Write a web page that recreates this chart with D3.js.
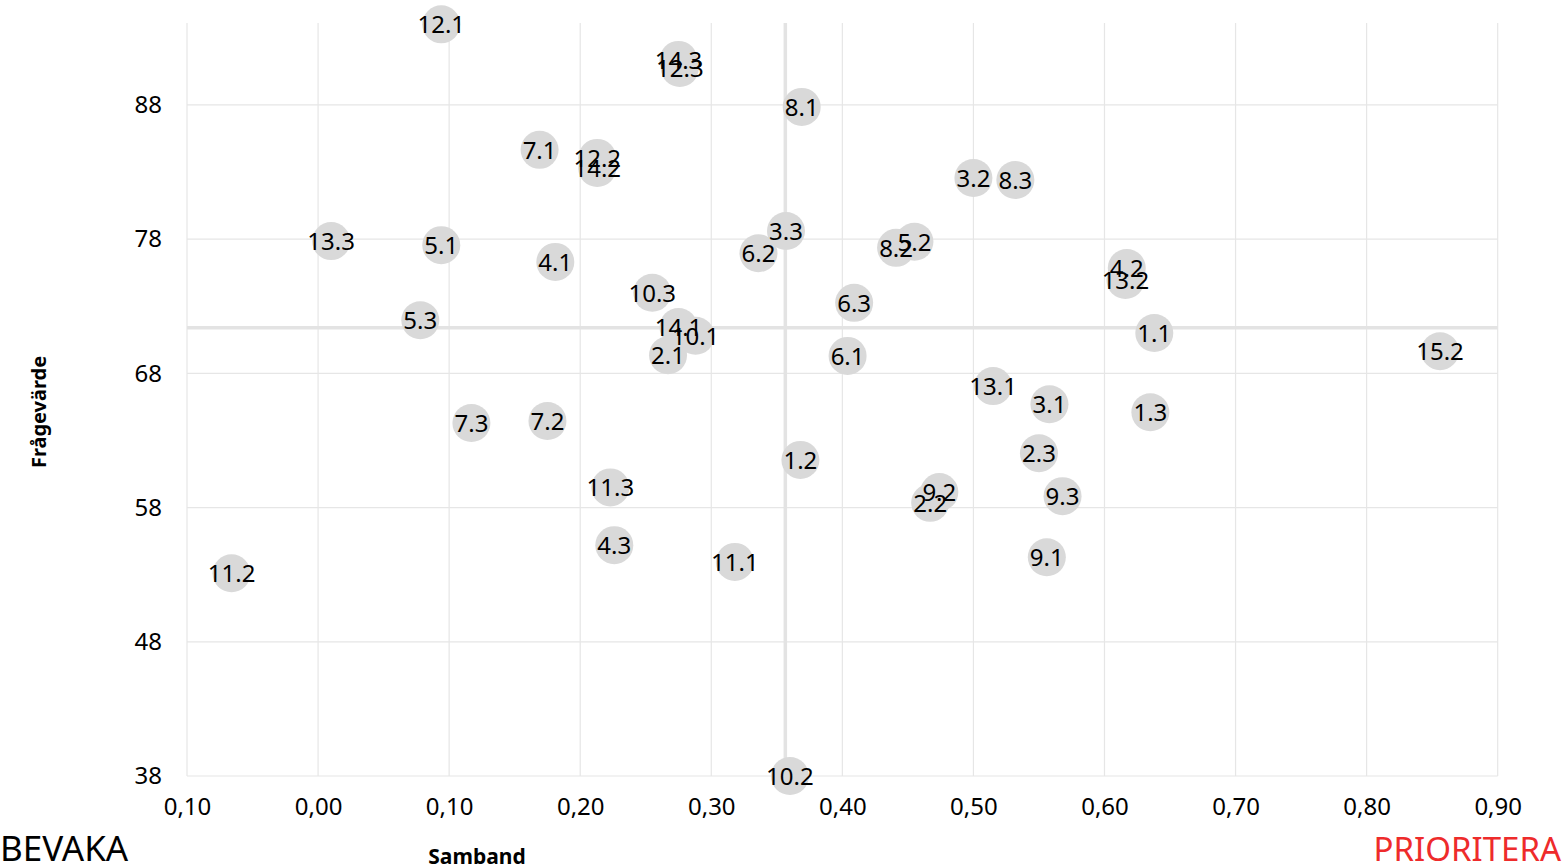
<!DOCTYPE html>
<html>
<head>
<meta charset="utf-8">
<script src="https://cdn.jsdelivr.net/npm/d3@7"></script>
<style>
  body { margin: 0; background: #fff; }
  text { font-family: "Noto Sans", "Open Sans", sans-serif; }
</style>
</head>
<body>
<svg width="1563" height="865"></svg>
<script>
var svg = d3.select("svg");

// data
var labels = ["12.1", "14.3", "12.3", "8.1", "7.1", "12.2", "14.2", "3.2", "8.3", "3.3",
  "13.3", "5.1", "5.2", "8.2", "6.2", "4.1", "4.2", "13.2", "10.3", "6.3",
  "5.3", "14.1", "10.1", "1.1", "15.2", "2.1", "6.1", "13.1", "3.1", "1.3",
  "7.3", "7.2", "2.3", "1.2", "11.3", "9.2", "2.2", "9.3", "4.3", "9.1",
  "11.1", "11.2", "10.2"];
var samband = [0.094, 0.275, 0.276, 0.369, 0.169, 0.213, 0.213, 0.500, 0.532, 0.357,
  0.010, 0.094, 0.455, 0.441, 0.336, 0.181, 0.617, 0.616, 0.255, 0.409,
  0.078, 0.275, 0.288, 0.638, 0.856, 0.267, 0.404, 0.515, 0.558, 0.635,
  0.117, 0.175, 0.550, 0.368, 0.223, 0.474, 0.467, 0.568, 0.226, 0.556,
  0.318, -0.066, 0.360];
var fragevarde = [94.0, 91.35, 90.75, 87.85, 84.65, 84.05, 83.3, 82.55, 82.4, 78.6,
  77.85, 77.55, 77.8, 77.35, 76.95, 76.3, 75.85, 74.95, 74.0, 73.25,
  71.95, 71.45, 70.8, 71.0, 69.65, 69.35, 69.3, 67.05, 65.7, 65.1,
  64.3, 64.45, 62.05, 61.55, 59.5, 59.15, 58.35, 58.85, 55.2, 54.3,
  53.95, 53.1, 38.0];
var xTicks = [-0.1, 0, 0.1, 0.2, 0.3, 0.4, 0.5, 0.6, 0.7, 0.8, 0.9];
var yTicks = [38, 48, 58, 68, 78, 88];
var crossX = 0.3565;
var crossY = 71.4;

var points = labels.map(function (d, i) {
  return { label: d, x: samband[i], y: fragevarde[i] };
});

var xscale = d3.scaleLinear().domain([-0.1, 0.9]).range([187, 1497.7]);
var yscale = d3.scaleLinear().domain([38, 94.1]).range([776, 23]);

var fmt = function (v) {
  return Math.abs(v).toFixed(2).replace(".", ",");
};

// grid
var grid = svg.append("g");
grid.selectAll(".vg").data(xTicks).enter().append("line")
  .attr("x1", function (d) { return xscale(d); })
  .attr("x2", function (d) { return xscale(d); })
  .attr("y1", yscale.range()[1])
  .attr("y2", yscale.range()[0])
  .attr("stroke", "#e6e6e6").attr("stroke-width", 1.2);
grid.selectAll(".hg").data(yTicks).enter().append("line")
  .attr("x1", xscale.range()[0])
  .attr("x2", xscale.range()[1])
  .attr("y1", function (d) { return yscale(d); })
  .attr("y2", function (d) { return yscale(d); })
  .attr("stroke", "#e6e6e6").attr("stroke-width", 1.2);

// quadrant cross
grid.append("line")
  .attr("x1", xscale(crossX)).attr("x2", xscale(crossX))
  .attr("y1", yscale.range()[1]).attr("y2", yscale.range()[0])
  .attr("stroke", "#e3e3e3").attr("stroke-width", 3.5);
grid.append("line")
  .attr("x1", xscale.range()[0]).attr("x2", xscale.range()[1])
  .attr("y1", yscale(crossY)).attr("y2", yscale(crossY))
  .attr("stroke", "#e3e3e3").attr("stroke-width", 3.5);

// axes
var xAxis = svg.append("g")
  .attr("transform", "translate(0,776)")
  .call(d3.axisBottom(xscale).tickValues(xTicks).tickFormat(fmt).tickSize(0).tickPadding(22));
xAxis.select(".domain").remove();
xAxis.selectAll("text").style("font-size", "24px").attr("fill", "#000");

var yAxis = svg.append("g")
  .attr("transform", "translate(187,0)")
  .call(d3.axisLeft(yscale).tickValues(yTicks).tickSize(0).tickPadding(25));
yAxis.select(".domain").remove();
yAxis.selectAll("text").style("font-size", "24px").attr("fill", "#000");

// points: all bubbles first, then all labels on top
svg.append("g").selectAll("circle").data(points).enter().append("circle")
  .attr("cx", function (d) { return xscale(d.x); })
  .attr("cy", function (d) { return yscale(d.y); })
  .attr("r", 19)
  .style("fill", "#d9d9d9");
svg.append("g").selectAll("text").data(points).enter().append("text")
  .attr("x", function (d) { return xscale(d.x); })
  .attr("y", function (d) { return yscale(d.y); })
  .attr("text-anchor", "middle")
  .attr("dy", "0.37em")
  .style("font-size", "24px")
  .attr("fill", "#000")
  .text(function (d) { return d.label; });

// titles
svg.append("text")
  .attr("x", 477).attr("y", 864)
  .attr("text-anchor", "middle")
  .style("font-size", "21px").style("font-weight", "bold")
  .text("Samband");
svg.append("text")
  .attr("transform", "translate(46,412) rotate(-90)")
  .attr("text-anchor", "middle")
  .style("font-size", "20px").style("font-weight", "bold")
  .text("Frågevärde");
svg.append("text")
  .attr("x", 0).attr("y", 861)
  .style("font-size", "35px")
  .text("BEVAKA");
svg.append("text")
  .attr("x", 1561).attr("y", 861)
  .attr("text-anchor", "end")
  .style("font-size", "33px").attr("fill", "#ee2b2b")
  .text("PRIORITERA");
</script>
</body>
</html>
